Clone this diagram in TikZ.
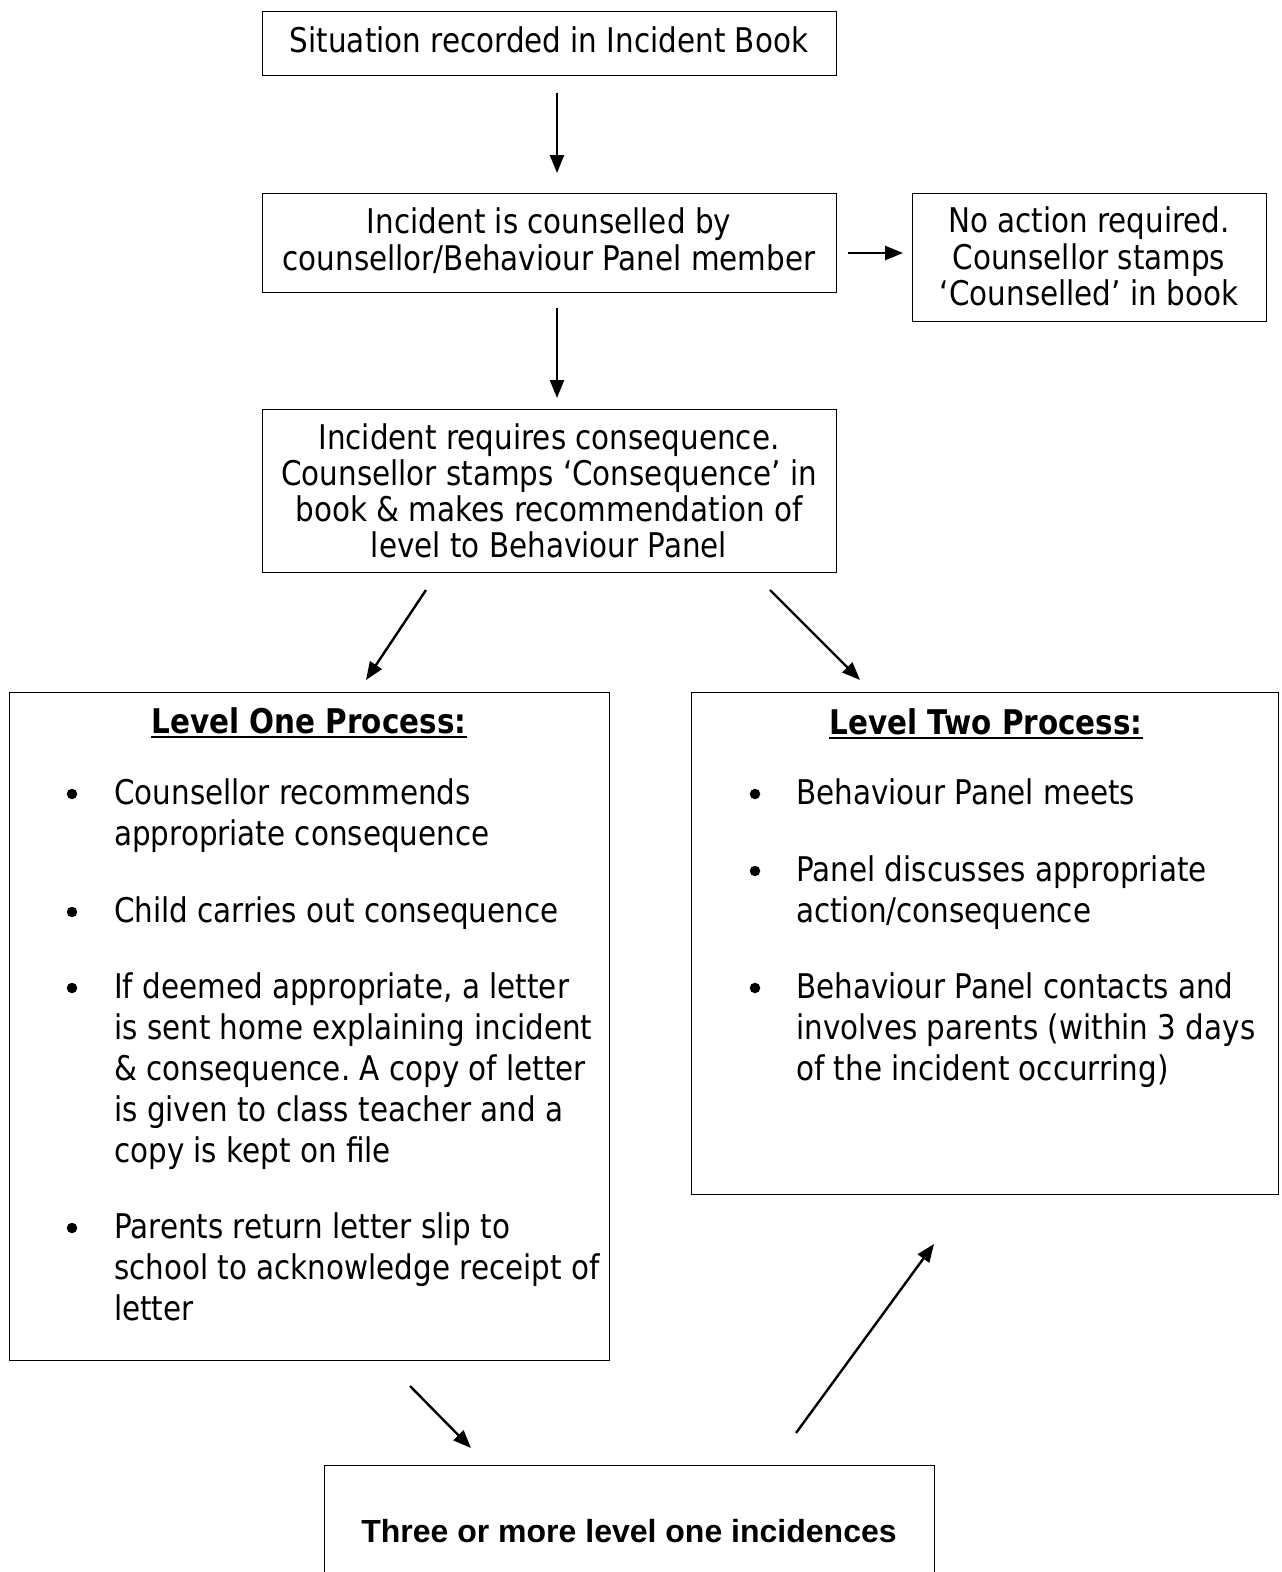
\documentclass[tikz,border=0pt]{standalone}
\usepackage{fontspec}
\setmainfont{DejaVu Sans}[FakeStretch=0.865]
\newfontfamily\arialb{Liberation Sans}
\usetikzlibrary{arrows.meta}
\frenchspacing
\begin{document}
\begin{tikzpicture}[x=1pt,y=-1pt,
  box/.style={draw, line width=1.3pt, inner sep=0pt, anchor=north west},
  txt/.style={inner sep=0pt, anchor=base, font=\fontsize{34}{36}\selectfont},
  txtl/.style={txt, anchor=base west},
  ttl/.style={txt, font=\fontsize{34}{36}\selectfont\bfseries},
  arr/.style={line width=2.4pt, -{Triangle[length=18pt,width=14pt]}},
  bul/.style={circle, fill, inner sep=0pt, minimum size=10.5pt},
  ul/.style={line width=2pt}]
\useasboundingbox (0,0) rectangle (1282,1572);
\fill[white] (0,0) rectangle (1282,1572);
% boxes
\node[box, minimum width=574pt, minimum height=64pt] (b1) at (262,11) {};
\node[box, minimum width=574pt, minimum height=99pt] (b2) at (262,193) {};
\node[box, minimum width=354pt, minimum height=128pt] (b3) at (912,193) {};
\node[box, minimum width=574pt, minimum height=163pt] (b4) at (262,409) {};
\node[box, minimum width=600pt, minimum height=668pt] (l1) at (9,692) {};
\node[box, minimum width=587pt, minimum height=502pt] (l2) at (691,692) {};
\node[box, minimum width=610pt, minimum height=200pt] (b5) at (324,1465) {};
% texts of the upper boxes
\node[txt] (t1) at (549,52) {Situation recorded in Incident Book};
\node[txt] (t2a) at (549,233) {Incident is counselled by};
\node[txt] (t2b) at (549,270) {counsellor/Behaviour Panel member};
\node[txt] (t3a) at (1089,232) {No action required.};
\node[txt] (t3b) at (1089,269) {Counsellor stamps};
\node[txt] (t3c) at (1089,305) {‘Counselled’ in book};
\node[txt] (t4a) at (549,449) {Incident requires consequence.};
\node[txt] (t4b) at (549,485) {Counsellor stamps ‘Consequence’ in};
\node[txt] (t4c) at (549,521) {book \& makes recommendation of};
\node[txt] (t4d) at (549,557) {level to Behaviour Panel};
% level one
\node[ttl] (h1) at (309,733) {Level One Process:};
\draw[ul] ([yshift=-4pt]h1.base west) -- ([yshift=-4pt]h1.base east);
\node[bul] (p1) at (72,794) {};
\node[txtl] (u1a) at (114,804) {Counsellor recommends};
\node[txtl] (u1b) at (114,845) {appropriate consequence};
\node[bul] (p2) at (72,912) {};
\node[txtl] (u2a) at (114,922) {Child carries out consequence};
\node[bul] (p3) at (72,988) {};
\node[txtl] (u3a) at (114,998) {If deemed appropriate, a letter};
\node[txtl] (u3b) at (114,1039) {is sent home explaining incident};
\node[txtl] (u3c) at (114,1080) {\& consequence. A copy of letter};
\node[txtl] (u3d) at (114,1121) {is given to class teacher and a};
\node[txtl] (u3e) at (114,1162) {copy is kept on file};
\node[bul] (p4) at (72,1228) {};
\node[txtl] (u4a) at (114,1238) {Parents return letter slip to};
\node[txtl] (u4b) at (114,1279) {school to acknowledge receipt of};
\node[txtl] (u4c) at (114,1320) {letter};
% level two
\node[ttl] (h2) at (986,734) {Level Two Process:};
\draw[ul] ([yshift=-4pt]h2.base west) -- ([yshift=-4pt]h2.base east);
\node[bul] (q1) at (755,794) {};
\node[txtl] (v1a) at (796,804) {Behaviour Panel meets};
\node[bul] (q2) at (755,871) {};
\node[txtl] (v2a) at (796,881) {Panel discusses appropriate};
\node[txtl] (v2b) at (796,922) {action/consequence};
\node[bul] (q3) at (755,988) {};
\node[txtl] (v3a) at (796,998) {Behaviour Panel contacts and};
\node[txtl] (v3b) at (796,1039) {involves parents (within 3 days};
\node[txtl] (v3c) at (796,1080) {of the incident occurring)};
% bottom box text
\node[inner sep=0pt, anchor=base, font=\arialb\fontsize{32}{36}\selectfont\bfseries] (t5) at (629,1542) {Three or more level one incidences};
% arrow ends
\coordinate (a1s) at (557,93);   \coordinate (a1e) at (557,173);
\coordinate (a2s) at (557,308);  \coordinate (a2e) at (557,398);
\coordinate (a3s) at (848,253);  \coordinate (a3e) at (903,253);
\coordinate (a4s) at (426,590);  \coordinate (a4e) at (366,680);
\coordinate (a5s) at (770,590);  \coordinate (a5e) at (860,680);
\coordinate (a6s) at (410,1386); \coordinate (a6e) at (471,1448);
\coordinate (a7s) at (796,1433); \coordinate (a7e) at (934,1244);
\draw[arr] (a1s) -- (a1e);
\draw[arr] (a2s) -- (a2e);
\draw[arr] (a3s) -- (a3e);
\draw[arr] (a4s) -- (a4e);
\draw[arr] (a5s) -- (a5e);
\draw[arr] (a6s) -- (a6e);
\draw[arr] (a7s) -- (a7e);
\end{tikzpicture}
\end{document}
